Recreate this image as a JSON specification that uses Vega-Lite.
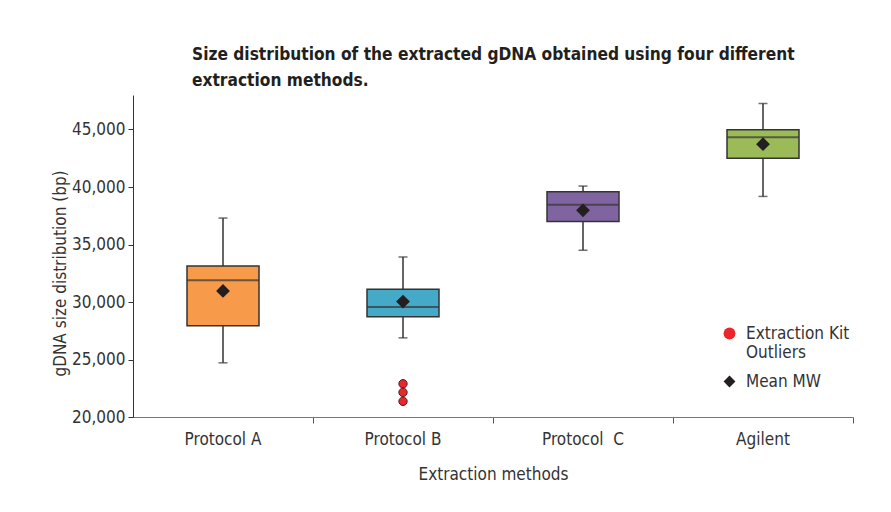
{
  "$schema": "https://vega.github.io/schema/vega-lite/v6.json",
  "width": 720,
  "height": 322,
  "autosize": "none",
  "padding": {"left": 133, "top": 95, "right": 38, "bottom": 95},
  "background": "white",
  "title": {
    "text": ["Size distribution of the extracted gDNA obtained using four different", "extraction methods."],
    "anchor": "start",
    "frame": "group",
    "dx": 59,
    "offset": 6,
    "font": "DejaVu Sans Condensed",
    "fontSize": 17.2,
    "fontWeight": "bold",
    "lineHeight": 26,
    "color": "#231f20"
  },
  "config": {
    "view": {"stroke": null},
    "axis": {
      "labelFont": "DejaVu Sans Condensed",
      "titleFont": "DejaVu Sans Condensed",
      "labelFontSize": 17,
      "titleFontSize": 17,
      "titleFontWeight": "normal",
      "labelColor": "#333333",
      "titleColor": "#333333",
      "grid": false
    },
    "legend": {
      "labelFont": "DejaVu Sans Condensed",
      "labelFontSize": 17,
      "labelColor": "#333333"
    }
  },
  "datasets": {
    "boxes": [
      {"method": "Protocol A", "lower": 24710, "q1": 27930, "median": 31890, "q3": 33130, "upper": 37300, "mean": 30960},
      {"method": "Protocol B", "lower": 26880, "q1": 28710, "median": 29575, "q3": 31110, "upper": 33915, "mean": 30040},
      {"method": "Protocol\u00a0 C", "lower": 34500, "q1": 37010, "median": 38460, "q3": 39590, "upper": 40080, "mean": 37970},
      {"method": "Agilent", "lower": 39180, "q1": 42510, "median": 44330, "q3": 44970, "upper": 47260, "mean": 43720}
    ],
    "outliers": [
      {"method": "Protocol B", "value": 22890},
      {"method": "Protocol B", "value": 22140},
      {"method": "Protocol B", "value": 21360}
    ]
  },
  "data": {"name": "boxes"},
  "encoding": {
    "x": {
      "field": "method",
      "type": "nominal",
      "sort": null,
      "title": "Extraction methods",
      "scale": {"domain": ["Protocol A", "Protocol B", "Protocol\u00a0 C", "Agilent"], "paddingInner": 0, "paddingOuter": 0},
      "axis": {
        "bandPosition": 1,
        "labelAngle": 0,
        "tickSize": 6,
        "tickColor": "#555555",
        "domainColor": "#777777",
        "labelPadding": 8,
        "titlePadding": 19
      }
    }
  },
  "layer": [
    {
      "mark": {"type": "rule", "color": "#333333", "strokeWidth": 1.5},
      "encoding": {
        "y": {
          "field": "lower",
          "type": "quantitative",
          "scale": {"domain": [20000, 48000], "nice": false, "zero": false},
          "title": "gDNA size distribution (bp)",
          "axis": {
            "values": [20000, 25000, 30000, 35000, 40000, 45000],
            "format": ",.0f",
            "tickSize": 5,
            "tickColor": "#333333",
            "domainColor": "#333333",
            "labelPadding": 3,
            "titleX": -68,
            "titleY": 178,
            "titleBaseline": "alphabetic",
            "titleAngle": 270
          }
        },
        "y2": {"field": "upper"}
      }
    },
    {
      "mark": {"type": "tick", "color": "#333333", "size": 9, "thickness": 1.5},
      "encoding": {"y": {"field": "lower", "type": "quantitative"}}
    },
    {
      "mark": {"type": "tick", "color": "#333333", "size": 9, "thickness": 1.5},
      "encoding": {"y": {"field": "upper", "type": "quantitative"}}
    },
    {
      "mark": {"type": "bar", "size": 72, "stroke": "#333333", "strokeWidth": 1.5},
      "encoding": {
        "y": {"field": "q1", "type": "quantitative"},
        "y2": {"field": "q3"},
        "color": {
          "field": "method",
          "type": "nominal",
          "scale": {"domain": ["Protocol A", "Protocol B", "Protocol\u00a0 C", "Agilent"], "range": ["#f79a4a", "#44aac8", "#8064a2", "#9bbb59"]},
          "legend": null
        }
      }
    },
    {
      "mark": {"type": "tick", "color": "#333333", "size": 72, "thickness": 2},
      "encoding": {"y": {"field": "median", "type": "quantitative"}}
    },
    {
      "mark": {"type": "point", "filled": true, "size": 190, "opacity": 1},
      "encoding": {
        "y": {"field": "mean", "type": "quantitative"},
        "shape": {
          "datum": "Mean MW",
          "scale": {"domain": ["Extraction Kit Outliers", "Mean MW"], "range": ["circle", "diamond"]},
          "legend": {
            "title": null,
            "orient": "none",
            "legendX": 588,
            "legendY": 230,
            "padding": 0,
            "symbolSize": 140,
            "labelOffset": 8,
            "rowPadding": 11,
            "labelBaseline": "middle",
            "labelExpr": "datum.label == 'Extraction Kit Outliers' ? ['Extraction Kit', 'Outliers'] : datum.label"
          }
        },
        "fill": {
          "datum": "Mean MW",
          "scale": {"domain": ["Extraction Kit Outliers", "Mean MW"], "range": ["#e8262b", "#231f20"]},
          "legend": {
            "title": null,
            "orient": "none",
            "legendX": 588,
            "legendY": 230,
            "padding": 0,
            "symbolSize": 140,
            "labelOffset": 8,
            "rowPadding": 11,
            "labelBaseline": "middle",
            "labelExpr": "datum.label == 'Extraction Kit Outliers' ? ['Extraction Kit', 'Outliers'] : datum.label"
          }
        }
      }
    },
    {
      "data": {"name": "outliers"},
      "mark": {"type": "point", "filled": true, "size": 70, "opacity": 1, "stroke": "#5a1a1a", "strokeWidth": 1},
      "encoding": {
        "y": {"field": "value", "type": "quantitative"},
        "shape": {"datum": "Extraction Kit Outliers"},
        "fill": {"datum": "Extraction Kit Outliers"}
      }
    }
  ]
}
